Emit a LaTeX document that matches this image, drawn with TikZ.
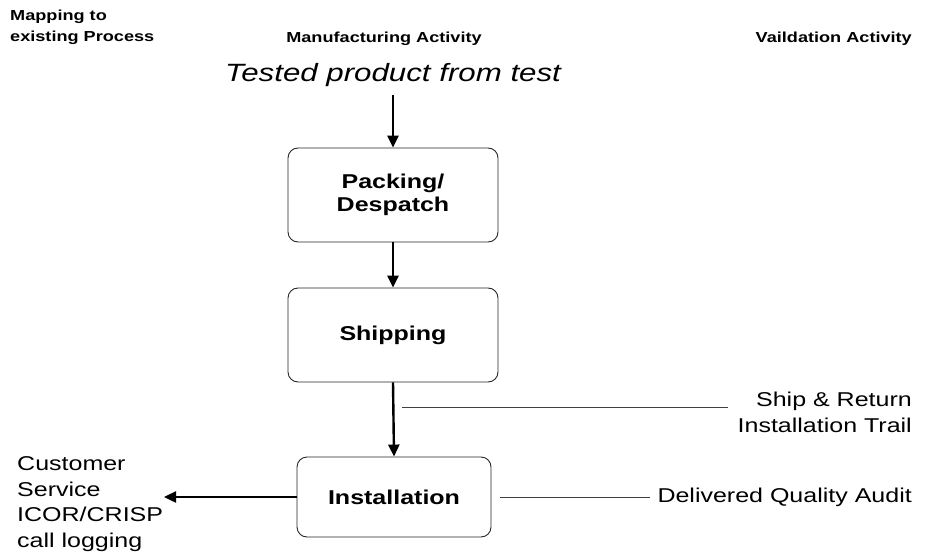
\documentclass[tikz,border=0pt]{standalone}
\usepackage{fontspec}
\setmainfont[FakeStretch=1.25]{Liberation Sans}
\usetikzlibrary{arrows.meta}
\begin{document}
\begin{tikzpicture}[x=1pt,y=-1pt,
  stagebox/.style={draw=black!85,line width=0.9pt,rounded corners=10pt,
    minimum width=210pt,minimum height=94pt,align=center,
    font=\fontsize{20}{23}\selectfont\bfseries},
  flow/.style={line width=2.4pt,-{Triangle[length=12pt,width=11pt]}},
  link/.style={line width=0.6pt,draw=black!75},
  head/.style={font=\fontsize{14.5}{21}\selectfont\bfseries,align=left},
  note/.style={font=\fontsize{20}{26}\selectfont,align=right}]
\useasboundingbox (0,0) rectangle (925,553);

% column headings
\node[head,anchor=north west,inner sep=0pt] (hmap) at (10,10) {Mapping to\\existing Process};
\node[head] (hman) at (384,39) {Manufacturing Activity};
\node[head,anchor=east,inner sep=0pt] (hval) at (912,39) {Vaildation Activity};

% incoming product
\node[font=\fontsize{25}{28}\selectfont\itshape] (src) at (393,75) {Tested product from test};

% process stages
\node[stagebox] (pack) at (393,195) {Packing/\\Despatch};
\node[stagebox] (ship) at (393,335) {Shipping};
\node[stagebox,minimum width=194pt,minimum height=80pt] (inst) at (394,497) {Installation};

% flow arrows
\draw[flow] (393,95) -- (pack.north);
\draw[flow] (pack.south) -- (ship.north);
\draw[flow] (ship.south) -- (inst.north);

% customer service mapping
\node[font=\fontsize{20}{25.7}\selectfont,align=left,anchor=west,inner sep=0pt] (cs) at (17,504)
  {Customer\\Service\\ICOR/CRISP\\call logging};
\coordinate (csin) at (164,497);
\draw[flow] (inst.west) -- (csin);

% validation activities
\node[note,anchor=east,inner sep=0pt] (trail) at (912,412) {Ship \& Return\\Installation Trail};
\coordinate (tapA) at (402,407);
\coordinate (tapB) at (728,407);
\draw[link] (tapA) -- (tapB);

\node[note,anchor=east,inner sep=0pt] (audit) at (912,497) {Delivered Quality Audit};
\coordinate (audA) at (500,497);
\draw[link] (audA) -- ([xshift=-7pt]audit.west);
\end{tikzpicture}
\end{document}
